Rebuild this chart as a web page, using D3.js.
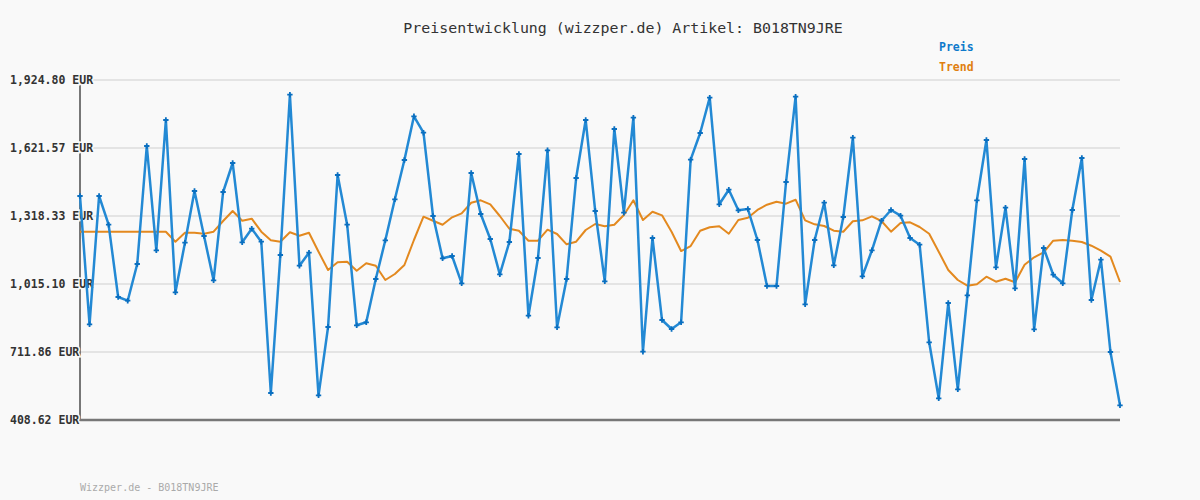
<!DOCTYPE html>
<html>
<head>
<meta charset="utf-8">
<script src="https://cdn.jsdelivr.net/npm/d3@7"></script>
<style>
  body { margin: 0; background: #f9f9f9; }
  svg { display: block; }
</style>
</head>
<body>
<div id="chart"></div>
<script>
// Preisverlauf - Werte
var preis = [
  1407.5, 835.4, 1407.5, 1279.5, 957.1, 940.6, 1104.3, 1630.5, 1165.4, 1746.4,
  978.1, 1199.2, 1429.8, 1229.1, 1031.6, 1425.3, 1554.7, 1201.0, 1261.7, 1203.7,
  529.0, 1144.4, 1859.2, 1096.7, 1154.7, 518.7, 823.3, 1501.1, 1279.5, 830.9,
  844.3, 1037.4, 1209.9, 1392.8, 1568.0, 1762.9, 1689.8, 1318.3, 1129.7, 1139.9,
  1018.2, 1510.1, 1327.2, 1215.7, 1058.3, 1202.4, 1594.8, 873.7, 1131.0, 1611.3,
  822.0, 1037.4, 1487.8, 1746.4, 1340.6, 1027.1, 1706.3, 1333.0, 1756.7, 713.2,
  1220.2, 854.5, 814.4, 844.3, 1569.4, 1688.4, 1845.9, 1370.5, 1435.6, 1343.7,
  1349.5, 1211.3, 1006.2, 1006.2, 1469.9, 1850.3, 924.5, 1211.3, 1377.6, 1098.5,
  1313.9, 1667.5, 1049.4, 1165.4, 1297.3, 1345.1, 1319.7, 1220.2, 1190.3, 755.1,
  505.4, 930.3, 545.5, 964.7, 1388.3, 1657.2, 1089.5, 1355.3, 995.9, 1572.5,
  813.1, 1175.6, 1056.5, 1018.2, 1345.1, 1576.9, 943.7, 1123.4, 711.9, 474.2
];

var trend = [
  1248.3, 1248.3, 1248.3, 1248.3, 1248.3, 1248.3, 1248.3, 1248.3, 1248.3, 1248.3,
  1203.7, 1243.8, 1243.8, 1239.4, 1248.3, 1296.0, 1340.6, 1297.3, 1306.3, 1248.3,
  1209.9, 1203.7, 1245.6, 1230.5, 1243.8, 1159.1, 1077.5, 1111.9, 1114.5, 1074.4,
  1107.4, 1096.7, 1032.9, 1059.7, 1099.8, 1211.3, 1315.2, 1297.3, 1279.5, 1312.5,
  1330.3, 1377.6, 1388.3, 1370.5, 1318.3, 1261.7, 1252.8, 1208.2, 1208.2, 1257.2,
  1238.0, 1192.1, 1203.7, 1255.9, 1282.6, 1272.4, 1279.5, 1322.8, 1388.3, 1300.5,
  1337.5, 1321.4, 1248.3, 1162.2, 1184.5, 1252.8, 1267.9, 1272.4, 1239.4, 1300.5,
  1310.7, 1345.1, 1368.7, 1382.1, 1373.2, 1391.0, 1299.1, 1281.3, 1273.7, 1252.8,
  1248.3, 1294.7, 1299.1, 1317.0, 1296.0, 1248.3, 1287.1, 1290.2, 1269.3, 1239.4,
  1159.1, 1077.5, 1032.9, 1007.5, 1013.7, 1047.6, 1025.3, 1038.7, 1022.7, 1101.1,
  1134.1, 1156.4, 1208.2, 1211.3, 1208.2, 1202.4, 1185.9, 1163.6, 1136.8, 1024.0
];

var yTicks = [408.62, 711.86, 1015.10, 1318.33, 1621.57, 1924.80];
var legendNames = ["Preis", "Trend"];
var titel = "Preisentwicklung (wizzper.de) Artikel: B018TN9JRE";
var fusszeile = "Wizzper.de - B018TN9JRE";

const width = 1200, height = 500;
const plotLeft = 80, plotRight = 1120, plotTop = 80, plotBottom = 420;
const mono = "'DejaVu Sans Mono', monospace";
const bg = "#f9f9f9";

const svg = d3.select("#chart").append("svg")
    .attr("width", width)
    .attr("height", height)
    .style("background", bg);

var x = d3.scaleLinear()
    .domain([0, preis.length - 1])
    .range([plotLeft, plotRight]);

var y = d3.scaleLinear()
    .domain([yTicks[0], yTicks[yTicks.length - 1]])
    .range([plotBottom, plotTop]);

var color = d3.scaleOrdinal()
    .domain(legendNames)
    .range(["#0f7acb", "#e07f10"]);

// Titel
svg.append("text")
    .attr("x", 623)
    .attr("y", 33)
    .attr("text-anchor", "middle")
    .style("font-family", mono)
    .style("font-size", "14.9px")
    .style("fill", "#333")
    .text(titel);

// Gitterlinien
svg.append("g")
    .selectAll("line")
    .data(yTicks.slice(1))
    .enter()
    .append("line")
    .attr("x1", plotLeft)
    .attr("x2", plotRight)
    .attr("y1", d => y(d))
    .attr("y2", d => y(d))
    .attr("stroke", "#e4e4e4")
    .attr("stroke-width", 2);

// Achsen
svg.append("line")
    .attr("x1", plotLeft).attr("x2", plotLeft)
    .attr("y1", plotTop).attr("y2", plotBottom)
    .attr("stroke", "#777").attr("stroke-width", 2);
svg.append("line")
    .attr("x1", plotLeft - 1).attr("x2", plotRight)
    .attr("y1", plotBottom).attr("y2", plotBottom)
    .attr("stroke", "#777").attr("stroke-width", 2.5);

// Achsenbeschriftung
var fmt = d3.format(",.2f");
svg.append("g")
    .selectAll("text")
    .data(yTicks)
    .enter()
    .append("text")
    .attr("x", 10)
    .attr("y", d => y(d) + 4)
    .style("font-family", mono)
    .style("font-size", "11.5px")
    .style("font-weight", "bold")
    .style("fill", "#333")
    .style("stroke", bg)
    .style("stroke-width", 3)
    .style("paint-order", "stroke")
    .text(d => fmt(d) + " EUR");

// Trendlinie
var line = d3.line()
    .x((d, i) => x(i))
    .y(d => y(d));

svg.append("path")
    .datum(trend)
    .attr("d", line)
    .attr("fill", "none")
    .attr("stroke", "#e3891f")
    .attr("stroke-width", 2)
    .attr("stroke-linejoin", "round");

// Preislinie
svg.append("path")
    .datum(preis)
    .attr("d", line)
    .attr("fill", "none")
    .attr("stroke", "#2389d4")
    .attr("stroke-width", 2.5)
    .attr("stroke-linejoin", "round");

// Punkte
var cross = d3.symbol().type(d3.symbolCross).size(16);
svg.append("g")
    .selectAll("path")
    .data(preis)
    .enter()
    .append("path")
    .attr("d", cross)
    .attr("transform", (d, i) => "translate(" + x(i) + "," + y(d) + ")")
    .attr("fill", "#0a6fc0");

// Legende
svg.append("g")
    .selectAll("text")
    .data(legendNames)
    .enter()
    .append("text")
    .attr("x", 939)
    .attr("y", (d, i) => 51 + i * 20)
    .style("font-family", mono)
    .style("font-size", "11.5px")
    .style("font-weight", "bold")
    .style("fill", d => color(d))
    .text(d => d);

// Fusszeile
svg.append("text")
    .attr("x", 80)
    .attr("y", 491)
    .style("font-family", mono)
    .style("font-size", "10px")
    .style("fill", "#aaa")
    .text(fusszeile);
</script>
</body>
</html>
